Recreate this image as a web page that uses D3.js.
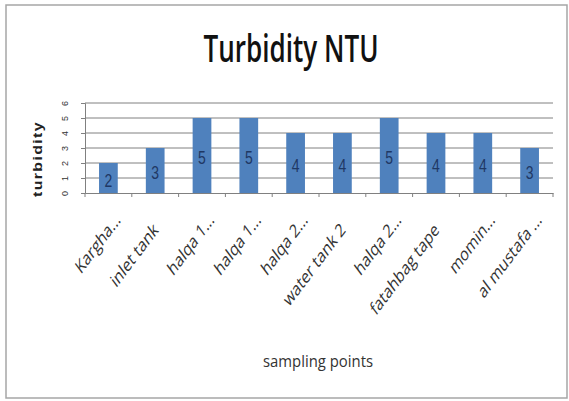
<!DOCTYPE html>
<html><head><meta charset="utf-8">
<script src="https://cdn.jsdelivr.net/npm/d3@7"></script>
<style>body{margin:0;background:#fff}</style>
</head><body>
<script>
const categories = ["Kargha...", "inlet tank", "halqa 1...", "halqa 1...", "halqa 2...", "water tank 2", "halqa 2...", "fatahbag tape", "momin...", "al mustafa ..."];
const turbidity = [2, 3, 5, 5, 4, 4, 5, 4, 4, 3];
const yTicks = [0, 1, 2, 3, 4, 5, 6];
const title = "Turbidity NTU";
const xTitle = "sampling points";
const yTitle = "turbidity";

(function () {
const W = 569, H = 401, SY = 1.33;
const svg = d3.select("body").append("svg").attr("width", W).attr("height", H);
svg.append("rect").attr("x", 6).attr("y", 5).attr("width", W - 8).attr("height", H - 8)
  .attr("fill", "#fff").attr("stroke", "#a6a6a6").attr("stroke-width", 1.5);

const pL = 85, pR = 553, pT = 103, pB = 193;
const x = d3.scaleBand().domain(d3.range(categories.length)).range([pL, pR]).paddingInner(0.6).paddingOuter(0.3);
const xc = d3.scaleBand().domain(d3.range(categories.length)).range([pL, pR]);
const y = d3.scaleLinear().domain([0, 6]).range([pB, pT]);

svg.append("g").selectAll("line").data(yTicks.slice(1)).join("line")
  .attr("x1", pL).attr("x2", pR).attr("y1", d => y(d)).attr("y2", d => y(d))
  .attr("stroke", "#808080").attr("stroke-width", 1);

svg.append("g").selectAll("rect").data(turbidity).join("rect")
  .attr("x", (d, i) => x(i)).attr("width", x.bandwidth())
  .attr("y", d => y(d)).attr("height", d => pB - y(d))
  .attr("fill", "#4f81bd");

svg.append("g").selectAll("text").data(turbidity).join("text")
  .attr("transform", (d, i) => `translate(${x(i) + x.bandwidth() / 2},${(y(d) + pB) / 2 + 2}) scale(1,${SY})`)
  .attr("dy", "0.36em").attr("text-anchor", "middle")
  .attr("font-family", "Liberation Sans, Arial, sans-serif").attr("font-size", 14)
  .attr("fill", "#1f3864").text(d => d);

const yAxis = d3.axisLeft(y).tickValues(yTicks).tickSize(4).tickFormat(d3.format("d"));
const ya = svg.append("g").attr("transform", `translate(${pL},0)`).call(yAxis);
ya.select(".domain").attr("stroke", "#808080");
ya.selectAll(".tick line").attr("stroke", "#808080");
ya.selectAll(".tick text").attr("x", 0)
  .attr("transform", "translate(-20,0) rotate(-90)")
  .attr("text-anchor", "middle").attr("dy", "0.35em")
  .attr("font-family", "Liberation Sans, Arial, sans-serif").attr("font-size", 9).attr("fill", "#333");

const xAxis = d3.axisBottom(xc).tickSize(0).tickFormat(i => categories[i]);
const xa = svg.append("g").attr("transform", `translate(0,${pB})`).call(xAxis);
xa.select(".domain").attr("stroke", "#808080");
xa.selectAll(".tick text")
  .attr("y", 0).attr("dy", 0)
  .attr("transform", i => categories[i].endsWith("...")
      ? `translate(13,28) scale(1,${SY}) rotate(-45)`
      : `translate(4,38) scale(1,${SY}) rotate(-45)`)
  .attr("text-anchor", "end")
  .attr("font-family", "Open Sans, sans-serif").attr("font-size", 14).attr("fill", "#333");
svg.append("g").selectAll("line").data(d3.range(categories.length + 1)).join("line")
  .attr("x1", i => pL + i * xc.step()).attr("x2", i => pL + i * xc.step())
  .attr("y1", pB).attr("y2", pB + 4).attr("stroke", "#808080");

svg.append("text").attr("transform", `translate(291,62) scale(1,${SY})`).attr("text-anchor", "middle")
  .attr("font-family", "Open Sans, sans-serif").attr("font-size", 28).attr("font-weight", 600)
  .attr("textLength", 175).attr("lengthAdjust", "spacingAndGlyphs").attr("fill", "#111").text(title);
svg.append("text").attr("transform", `translate(318,367) scale(1,${SY})`).attr("text-anchor", "middle")
  .attr("font-family", "Open Sans, sans-serif").attr("font-size", 12.5).attr("fill", "#333")
  .attr("textLength", 110).attr("lengthAdjust", "spacingAndGlyphs").text(xTitle);
svg.append("text").attr("transform", `translate(42,159) scale(1,${SY}) rotate(-90)`).attr("text-anchor", "middle")
  .attr("font-family", "Liberation Sans, Arial, sans-serif").attr("font-size", 12).attr("font-weight", "bold")
  .attr("letter-spacing", 1).attr("fill", "#222").text(yTitle);
})();
</script>
</body></html>
